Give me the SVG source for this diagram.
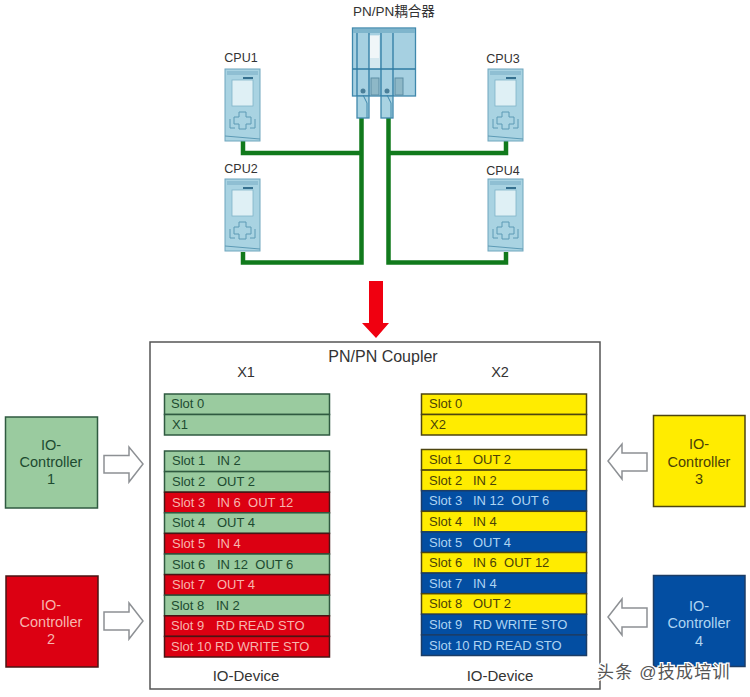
<svg xmlns="http://www.w3.org/2000/svg" width="750" height="697" viewBox="0 0 750 697">
<style>
text{font-family:"Liberation Sans","Noto Sans CJK SC",sans-serif}
.g{fill:#9acb9f;stroke:#2f5a40;stroke-width:1.5}
.r{fill:#dc0012;stroke:#4a1414;stroke-width:1.5}
.y{fill:#ffec00;stroke:#4d4510;stroke-width:1.5}
.b{fill:#034ea2;stroke:#1c3d66;stroke-width:1.5}
.tg{fill:#1d4a30}.tr{fill:#f7b5ae}.ty{fill:#4a4208}.tb{fill:#aed4f2}
.s{font-size:13px}.c{font-size:14.500px;text-anchor:middle}.h{font-size:14.500px;fill:#333;text-anchor:middle}
.cpu{font-size:12.500px;fill:#333;text-anchor:middle}
.cab{fill:none;stroke:#117a1c;stroke-width:4.500}
.ln{stroke:#444;stroke-width:1.3;fill:none}
.hol{fill:#fff;stroke:#8d9094;stroke-width:1.5}
.dev{fill:#a9d3e2;stroke:#6fa6bd;stroke-width:1}
.ln2{fill:none;stroke:#5d9ab5;stroke-width:1}
.scr{fill:#dff0f5;stroke:#7fb3c8;stroke-width:.8}
</style>
<defs>
<marker id="ah" viewBox="0 0 10 10" refX="9" refY="5" markerWidth="9" markerHeight="9" markerUnits="userSpaceOnUse" orient="auto-start-reverse"><path d="M0 0L10 5L0 10Z" fill="#222"/></marker>
<g id="cpu">
<rect class="dev" x="0" y="0" width="35" height="72"/>
<rect x="2" y="2" width="31" height="4" fill="#8fbfd3"/>
<rect x="18" y="8" width="10" height="2" fill="#35708f"/>
<rect class="scr" x="7" y="11" width="21" height="26"/>
<path class="ln2" d="M14 43h7v5h5v7h-5v5h-7v-5h-5v-7h5z"/>
<path class="ln2" d="M5 50v9h5M30 50v9h-5"/>
<path class="ln2" d="M0 67L35 70"/>
</g>
</defs>

<g id="connectors">
<path class="cab" d="M361.500 117V262.500H243V252"/>
<path class="cab" d="M361.500 153H243V141"/>
<path class="cab" d="M388.500 117V262.500H506V252"/>
<path class="cab" d="M388.500 153H506V141"/>
<path class="ln" d="M331 460.500H421" marker-start="url(#ah)"/>
<path class="ln" d="M329 481H420" marker-end="url(#ah)"/>
<path class="ln" d="M331 501.500H420" marker-start="url(#ah)" marker-end="url(#ah)"/>
<path class="ln" d="M329 522H420" marker-end="url(#ah)"/>
<path class="ln" d="M331 542.500H421" marker-start="url(#ah)"/>
<path class="ln" d="M331 563H420" marker-start="url(#ah)" marker-end="url(#ah)"/>
<path class="ln" d="M329 584H420" marker-end="url(#ah)"/>
<path class="ln" d="M331 605H421" marker-start="url(#ah)"/>
<path class="ln" d="M331 625.500H420" marker-start="url(#ah)" marker-end="url(#ah)"/>
<path class="ln" d="M331 646.500H420" marker-start="url(#ah)" marker-end="url(#ah)"/>
<path d="M369 281H383V323H389L376 338L362 323H369Z" fill="#f00010"/>
<path class="hol" d="M104 455.500H129V447L143 464L129 482V473H104Z"/>
<path class="hol" d="M104 612H129V603L143 621L129 639V630H104Z"/>
<path class="hol" d="M647 453H622V444L608 461L622 479V471H647Z"/>
<path class="hol" d="M647 608H622V599L608 617L622 635V627H647Z"/>
</g>

<g id="coupler-device">
<text x="394" y="16" text-anchor="middle" font-size="13.500" fill="#333">PN/PN耦合器</text>
<rect x="352.500" y="28" width="63" height="68" fill="#a6d0e1" stroke="#3f88ac" stroke-width="1.300"/>
<rect x="353" y="29" width="62" height="4" fill="#7fb5cc"/>
<rect x="369" y="35" width="11" height="34" fill="#d5e8ef"/>
<rect x="370" y="36" width="9" height="22" fill="#f0f6f8"/>
<path d="M352.500 69H415.500M357 33V96M369 33V96M381 33V96M393 33V96" fill="none" stroke="#2f7ba3" stroke-width="1.300"/>
<rect x="357" y="96" width="12" height="22" fill="#a9d3e2" stroke="#3f88ac" stroke-width="1.300"/>
<rect x="381" y="96" width="12" height="22" fill="#a9d3e2" stroke="#3f88ac" stroke-width="1.300"/>
<path d="M363 95L367 103V118M387 95L391 103V118" fill="none" stroke="#3f88ac"/>
<circle cx="363" cy="91" r="2.500" fill="#4a7f99"/>
<circle cx="387" cy="91" r="2.500" fill="#4a7f99"/>
<rect x="371" y="78" width="8" height="17" fill="#8eb8c7" stroke="#5d8ea5"/>
<rect x="395" y="78" width="8" height="17" fill="#8eb8c7" stroke="#5d8ea5"/>
</g>
<g id="cpu1"><text class="cpu" x="241" y="62">CPU1</text><use href="#cpu" x="225" y="69"/></g>
<g id="cpu2"><text class="cpu" x="241" y="173">CPU2</text><use href="#cpu" x="225" y="179"/></g>
<g id="cpu3"><text class="cpu" x="503" y="63">CPU3</text><use href="#cpu" x="488" y="69"/></g>
<g id="cpu4"><text class="cpu" x="503" y="175">CPU4</text><use href="#cpu" x="488" y="179"/></g>

<g id="pnpn-coupler">
<rect x="150" y="342" width="450" height="347" fill="#fff" stroke="#555" stroke-width="1.500"/>
<text class="h" x="383" y="362" style="font-size:16px">PN/PN Coupler</text>
<text class="h" x="246" y="377">X1</text>
<text class="h" x="500" y="377">X2</text>
<text class="h" x="246" y="681" style="font-size:15px">IO-Device</text>
<text class="h" x="500" y="681" style="font-size:15px">IO-Device</text>
</g>

<g id="x1-head">
<rect class="g" x="164.500" y="394" width="165" height="20.500"/><rect class="g" x="164.500" y="414.500" width="165" height="20.500"/>
<text class="s tg" x="171" y="408">Slot 0</text><text class="s tg" x="172" y="429">X1</text>
</g>
<g id="x2-head">
<rect class="y" x="421.500" y="394" width="165" height="20.500"/><rect class="y" x="421.500" y="414.500" width="165" height="20.500"/>
<text class="s ty" x="429" y="408">Slot 0</text><text class="s ty" x="430" y="429">X2</text>
</g>

<g id="x1-slots">
<rect class="g" x="164.500" y="451" width="165" height="20.600"/><text class="s tg" x="172" y="465">Slot 1</text><text class="s tg" x="217" y="465">IN 2</text>
<rect class="g" x="164.500" y="471.600" width="165" height="20.600"/><text class="s tg" x="172" y="486">Slot 2</text><text class="s tg" x="217" y="486">OUT 2</text>
<rect class="r" x="164.500" y="492.200" width="165" height="20.600"/><text class="s tr" x="172" y="507">Slot 3</text><text class="s tr" x="217" y="507" xml:space="preserve">IN 6  OUT 12</text>
<rect class="g" x="164.500" y="512.800" width="165" height="20.600"/><text class="s tg" x="172" y="527">Slot 4</text><text class="s tg" x="217" y="527">OUT 4</text>
<rect class="r" x="164.500" y="533.400" width="165" height="20.600"/><text class="s tr" x="172" y="548">Slot 5</text><text class="s tr" x="217" y="548">IN 4</text>
<rect class="g" x="164.500" y="554" width="165" height="20.600"/><text class="s tg" x="172" y="569">Slot 6</text><text class="s tg" x="217" y="569" xml:space="preserve">IN 12  OUT 6</text>
<rect class="r" x="164.500" y="574.600" width="165" height="20.600"/><text class="s tr" x="172" y="589">Slot 7</text><text class="s tr" x="217" y="589">OUT 4</text>
<rect class="g" x="164.500" y="595.200" width="165" height="20.600"/><text class="s tg" x="171" y="610">Slot 8</text><text class="s tg" x="216" y="610">IN 2</text>
<rect class="r" x="164.500" y="615.800" width="165" height="20.600"/><text class="s tr" x="171" y="630">Slot 9</text><text class="s tr" x="216" y="630">RD READ STO</text>
<rect class="r" x="164.500" y="636.400" width="165" height="20.600"/><text class="s tr" x="171" y="651">Slot 10 RD WRITE STO</text>
</g>

<g id="x2-slots">
<rect class="y" x="421.500" y="449.500" width="165" height="20.600"/><text class="s ty" x="429" y="464">Slot 1</text><text class="s ty" x="473" y="464">OUT 2</text>
<rect class="y" x="421.500" y="470.100" width="165" height="20.600"/><text class="s ty" x="429" y="485">Slot 2</text><text class="s ty" x="473" y="485">IN 2</text>
<rect class="b" x="421.500" y="490.700" width="165" height="20.600"/><text class="s tb" x="429" y="505">Slot 3</text><text class="s tb" x="473" y="505" xml:space="preserve">IN 12  OUT 6</text>
<rect class="y" x="421.500" y="511.300" width="165" height="20.600"/><text class="s ty" x="429" y="526">Slot 4</text><text class="s ty" x="473" y="526">IN 4</text>
<rect class="b" x="421.500" y="531.900" width="165" height="20.600"/><text class="s tb" x="429" y="547">Slot 5</text><text class="s tb" x="473" y="547">OUT 4</text>
<rect class="y" x="421.500" y="552.500" width="165" height="20.600"/><text class="s ty" x="429" y="567">Slot 6</text><text class="s ty" x="473" y="567" xml:space="preserve">IN 6  OUT 12</text>
<rect class="b" x="421.500" y="573.100" width="165" height="20.600"/><text class="s tb" x="429" y="588">Slot 7</text><text class="s tb" x="473" y="588">IN 4</text>
<rect class="y" x="421.500" y="593.700" width="165" height="20.600"/><text class="s ty" x="429" y="608">Slot 8</text><text class="s ty" x="473" y="608">OUT 2</text>
<rect class="b" x="421.500" y="614.300" width="165" height="20.600"/><text class="s tb" x="429" y="629">Slot 9</text><text class="s tb" x="473" y="629">RD WRITE STO</text>
<rect class="b" x="421.500" y="634.900" width="165" height="20.600"/><text class="s tb" x="429" y="650">Slot 10 RD READ STO</text>
</g>

<g id="io-controller-1"><rect class="g" x="5.500" y="417" width="92" height="91"/><text class="c tg"><tspan x="51" y="450">IO-</tspan><tspan x="51" y="467">Controller</tspan><tspan x="51" y="484">1</tspan></text></g>
<g id="io-controller-2"><rect class="r" x="6" y="576" width="92" height="91"/><text class="c tr"><tspan x="51" y="610">IO-</tspan><tspan x="51" y="627">Controller</tspan><tspan x="51" y="644">2</tspan></text></g>
<g id="io-controller-3"><rect class="y" x="653.500" y="415.500" width="91.500" height="91"/><text class="c ty"><tspan x="699" y="449">IO-</tspan><tspan x="699" y="467">Controller</tspan><tspan x="699" y="484">3</tspan></text></g>
<g id="io-controller-4"><rect class="b" x="653.500" y="575.500" width="91.500" height="91"/><text class="c tb"><tspan x="699" y="611">IO-</tspan><tspan x="699" y="628">Controller</tspan><tspan x="699" y="646">4</tspan></text></g>

<g id="watermark"><text x="597" y="678" font-size="17" letter-spacing="1.200" fill="#555" stroke="#fff" stroke-width="2.500" paint-order="stroke">头条 @技成培训</text></g>
</svg>
